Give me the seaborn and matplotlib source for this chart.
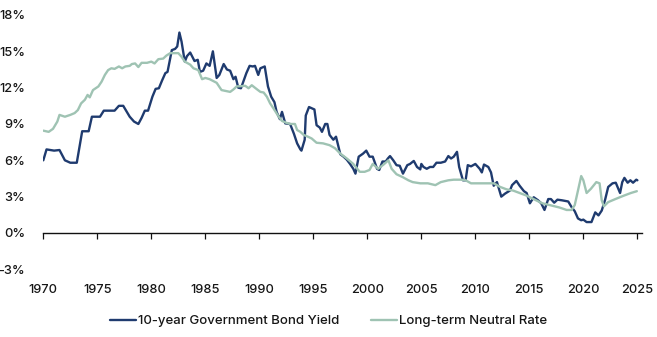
import matplotlib
matplotlib.use("Agg")
import matplotlib.pyplot as plt
import seaborn as sns
import pandas as pd
import numpy as np

# ---- data ----
bond_years = [1970.0, 1970.3, 1971.0, 1971.5, 1972.0, 1972.5, 1973.1, 1973.6, 1974.2, 1974.5,
              1975.25, 1975.6, 1976.6, 1977.0, 1977.4, 1978.0, 1978.4, 1978.8, 1979.1, 1979.4,
              1979.7, 1980.1, 1980.4, 1980.7, 1981.0, 1981.3, 1981.5, 1981.9, 1982.2, 1982.4,
              1982.6, 1982.8, 1983.1, 1983.3, 1983.6, 1984.0, 1984.3, 1984.5, 1984.8, 1985.1,
              1985.4, 1985.7, 1986.05, 1986.3, 1986.7, 1987.0, 1987.3, 1987.6, 1987.8, 1988.05,
              1988.3, 1988.8, 1989.1, 1989.4, 1989.6, 1989.9, 1990.1, 1990.5, 1990.8, 1991.1,
              1991.4, 1991.6, 1991.9, 1992.1, 1992.4, 1992.85, 1993.2, 1993.5, 1993.8, 1993.9,
              1994.2, 1994.3, 1994.6, 1994.85, 1995.1, 1995.3, 1995.6, 1995.8, 1996.1, 1996.3,
              1996.5, 1996.85, 1997.1, 1997.5, 1997.8, 1998.1, 1998.4, 1998.7, 1998.9, 1999.2,
              1999.6, 1999.9, 2000.2, 2000.5, 2000.9, 2001.1, 2001.4, 2001.7, 2001.9, 2002.1,
              2002.4, 2002.7, 2003.0, 2003.3, 2003.7, 2003.95, 2004.3, 2004.6, 2004.9, 2005.0,
              2005.2, 2005.5, 2005.8, 2006.1, 2006.4, 2006.8, 2007.2, 2007.5, 2007.75, 2008.0,
              2008.3, 2008.5, 2008.85, 2009.1, 2009.3, 2009.6, 2010.0, 2010.4, 2010.6, 2010.8,
              2011.2, 2011.45, 2011.7, 2012.0, 2012.4, 2012.75, 2013.2, 2013.4, 2013.8, 2014.1,
              2014.5, 2014.75, 2015.05, 2015.4, 2015.8, 2016.1, 2016.4, 2016.75, 2017.0, 2017.3,
              2017.6, 2018.0, 2018.6, 2018.9, 2019.2, 2019.5, 2019.8, 2020.0, 2020.3, 2020.75,
              2021.1, 2021.4, 2021.7, 2022.0, 2022.3, 2022.7, 2023.0, 2023.4, 2023.6, 2023.8,
              2024.1, 2024.35, 2024.6, 2024.9, 2025.0]
bond_yield = [6.0, 6.9, 6.8, 6.85, 6.0, 5.8, 5.8, 8.4, 8.4, 9.6,
              9.6, 10.1, 10.1, 10.5, 10.5, 9.6, 9.2, 9.0, 9.5, 10.1,
              10.1, 11.25, 11.9, 11.95, 12.6, 13.2, 13.3, 15.1, 15.2, 15.4,
              16.55, 15.8, 14.15, 14.6, 14.9, 14.2, 14.3, 13.3, 13.4, 14.0,
              13.8, 15.0, 12.8, 13.05, 13.95, 13.5, 13.4, 12.7, 12.9, 12.0,
              11.95, 13.2, 13.8, 13.75, 13.8, 13.05, 13.6, 13.75, 12.1, 11.25,
              10.8, 10.0, 9.4, 10.0, 9.05, 9.0, 8.2, 7.4, 6.9, 6.8,
              7.7, 9.7, 10.4, 10.3, 10.2, 8.9, 8.7, 8.35, 9.0, 9.0,
              8.1, 7.7, 7.95, 6.5, 6.3, 6.05, 5.7, 5.3, 4.9, 6.3,
              6.55, 6.8, 6.3, 6.3, 5.3, 5.2, 5.9, 5.9, 6.15, 6.35,
              6.0, 5.6, 5.55, 4.9, 5.6, 5.7, 5.95, 5.45, 5.25, 5.7,
              5.45, 5.3, 5.45, 5.45, 5.8, 5.8, 5.9, 6.35, 6.15, 6.3,
              6.7, 5.45, 4.35, 4.35, 5.6, 5.5, 5.7, 5.3, 5.0, 5.65,
              5.45, 5.0, 3.9, 4.2, 3.0, 3.25, 3.5, 3.95, 4.3, 3.9,
              3.45, 3.3, 2.45, 2.95, 2.7, 2.45, 1.9, 2.8, 2.8, 2.5,
              2.75, 2.7, 2.6, 2.15, 1.8, 1.2, 1.05, 1.1, 0.9, 0.9,
              1.7, 1.45, 1.85, 2.7, 3.8, 4.1, 4.15, 3.3, 4.2, 4.55,
              4.15, 4.35, 4.15, 4.4, 4.35]

neutral_years = [1970.0, 1970.5, 1970.9, 1971.3, 1971.5, 1972.0, 1972.5, 1972.9, 1973.2, 1973.5,
                 1973.85, 1974.1, 1974.3, 1974.6, 1975.1, 1975.4, 1975.7, 1976.0, 1976.3, 1976.6,
                 1977.0, 1977.3, 1977.6, 1978.0, 1978.2, 1978.5, 1978.8, 1979.1, 1979.6, 1980.0,
                 1980.3, 1980.65, 1981.1, 1981.4, 1981.75, 1982.5, 1982.8, 1983.1, 1983.6, 1983.9,
                 1984.35, 1984.7, 1985.0, 1985.4, 1986.05, 1986.5, 1987.3, 1987.6, 1987.9, 1988.7,
                 1989.0, 1989.3, 1989.8, 1990.1, 1990.4, 1990.7, 1991.0, 1991.3, 1991.8, 1992.1,
                 1992.5, 1992.85, 1993.3, 1993.5, 1993.8, 1994.1, 1994.5, 1994.85, 1995.3, 1995.9,
                 1996.5, 1997.0, 1997.5, 1998.1, 1998.7, 1999.3, 1999.75, 2000.2, 2000.5, 2001.0,
                 2001.5, 2001.95, 2002.25, 2002.7, 2003.3, 2003.8, 2004.2, 2004.9, 2005.6, 2006.3,
                 2006.8, 2007.5, 2008.0, 2008.7, 2009.1, 2009.6, 2010.4, 2011.0, 2011.7, 2012.3,
                 2012.9, 2013.5, 2014.1, 2014.7, 2015.5, 2016.2, 2016.9, 2017.8, 2018.45, 2018.9,
                 2019.2, 2019.5, 2019.8, 2020.0, 2020.3, 2020.7, 2021.2, 2021.5, 2021.7, 2021.9,
                 2022.3, 2023.1, 2023.8, 2024.4, 2024.95]
neutral_rate = [8.45, 8.35, 8.6, 9.2, 9.75, 9.6, 9.75, 9.9, 10.15, 10.7,
                11.0, 11.4, 11.2, 11.8, 12.1, 12.5, 13.05, 13.45, 13.6, 13.55,
                13.75, 13.6, 13.75, 13.8, 13.95, 14.0, 13.7, 14.05, 14.05, 14.15,
                14.0, 14.35, 14.4, 14.65, 14.85, 14.85, 14.55, 14.15, 13.9, 13.6,
                13.45, 12.7, 12.8, 12.7, 12.4, 11.8, 11.65, 11.85, 12.1, 12.15,
                11.95, 12.2, 11.85, 11.65, 11.6, 11.25, 10.7, 10.3, 9.6, 9.25,
                9.1, 9.0, 9.0, 8.5, 8.35, 8.1, 7.95, 7.8, 7.45, 7.4,
                7.25, 7.0, 6.55, 6.15, 5.7, 5.05, 5.05, 5.2, 5.7, 5.3,
                5.65, 6.0, 5.3, 4.85, 4.6, 4.35, 4.2, 4.1, 4.1, 3.95,
                4.2, 4.35, 4.4, 4.4, 4.35, 4.1, 4.1, 4.1, 4.1, 3.8,
                3.6, 3.5, 3.3, 3.1, 2.75, 2.45, 2.3, 2.1, 1.9, 1.9,
                2.3, 3.5, 4.7, 4.35, 3.3, 3.65, 4.2, 4.1, 2.7, 2.2,
                2.55, 2.85, 3.1, 3.3, 3.45]

series_names = ["10-year Government Bond Yield", "Long-term Neutral Rate"]
series_colors = ["#1f3b6f", "#9fc3b3"]
x_ticks = [1970, 1975, 1980, 1985, 1990, 1995, 2000, 2005, 2010, 2015, 2020, 2025]
y_ticks = [-3, 0, 3, 6, 9, 12, 15, 18]
y_tick_labels = ["-3%", "0%", "3%", "6%", "9%", "12%", "15%", "18%"]

df = pd.concat([
    pd.DataFrame({"year": bond_years, "value": bond_yield, "series": series_names[0]}),
    pd.DataFrame({"year": neutral_years, "value": neutral_rate, "series": series_names[1]}),
], ignore_index=True)

sns.set_theme(style="white")
plt.rcParams["font.family"] = ["Inter", "DejaVu Sans"]
plt.rcParams["font.weight"] = "medium"
txt_color = "#161616"

fig = plt.figure(figsize=(6.57, 3.37), dpi=100)
ax = fig.add_axes([0.0659, 0.2009, 0.9108, 0.7546])

sns.lineplot(data=df, x="year", y="value", hue="series", hue_order=series_names,
             palette=dict(zip(series_names, series_colors)), linewidth=1.7,
             ax=ax, legend=True, estimator=None, sort=True)

ax.set_xlim(1970, 2025.4)
ax.set_ylim(-3, 18)
ax.set_xlabel("")
ax.set_ylabel("")

for s in ["top", "right", "left"]:
    ax.spines[s].set_visible(False)
ax.spines["bottom"].set_position(("data", 0))
ax.spines["bottom"].set_color("#111111")
ax.spines["bottom"].set_linewidth(1.0)

ax.set_xticks(x_ticks)
ax.set_xticklabels([str(t) for t in x_ticks])
ax.tick_params(axis="x", direction="out", length=4, width=0.9, color="#111111",
               pad=33, labelsize=9.2, labelcolor=txt_color, bottom=True)
ax.set_yticks(y_ticks)
ax.set_yticklabels(y_tick_labels)
ax.tick_params(axis="y", length=0, pad=13, labelsize=9.2, labelcolor=txt_color)
ax.grid(False)

handles, labels = ax.get_legend_handles_labels()
leg = ax.legend(handles, labels, loc="center", bbox_to_anchor=(0.5, 0.047),
                bbox_transform=fig.transFigure, ncol=2, frameon=False,
                fontsize=9.5, handlelength=2.0, handletextpad=0.15,
                columnspacing=2.4)
for t in leg.get_texts():
    t.set_color(txt_color)
for h in leg.get_lines():
    h.set_linewidth(1.7)

fig.savefig("out.png", dpi=100)
